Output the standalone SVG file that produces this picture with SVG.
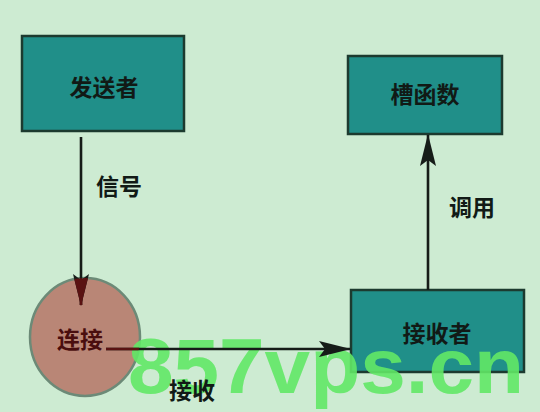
<svg xmlns="http://www.w3.org/2000/svg" width="540" height="412" viewBox="0 0 540 412">
  <defs>
    <style>
      .box { fill: #208f89; stroke: #1c3a2f; stroke-width: 2.5; }
      .lbl { font-family: "Noto Sans CJK SC", "Liberation Sans", sans-serif; font-size: 23px; font-weight: bold; fill: #111a16; text-anchor: middle; dominant-baseline: central; }
      .edge { stroke: #161c18; stroke-width: 2.6; fill: none; }
      .wm { font-family: "Liberation Sans", Arial, sans-serif; font-weight: bold; font-size: 78px; fill: #62e866; fill-opacity: 0.9; }
    </style>
    <marker id="arr" viewBox="0 0 32 16" refX="31" refY="8" markerWidth="32" markerHeight="16" markerUnits="userSpaceOnUse" orient="auto">
      <path d="M0,0 L32,8 L0,16 L6,8 Z" fill="#161c18"/>
    </marker>
    <marker id="arrR" viewBox="0 0 32 16" refX="31" refY="8" markerWidth="32" markerHeight="16" markerUnits="userSpaceOnUse" orient="auto">
      <path d="M0,0 L32,8 L0,16 L6,8 Z" fill="#5a1212"/>
    </marker>
    <clipPath id="circClip">
      <ellipse cx="85" cy="337" rx="55" ry="59"/>
    </clipPath>
  </defs>

  <rect width="540" height="412" fill="#cdebd2"/>

  <g id="sender">
    <rect class="box" x="22" y="36" width="162" height="95"/>
    <text class="lbl" x="104" y="86">发送者</text>
  </g>
  <g id="slot">
    <rect class="box" x="348" y="56" width="154" height="78"/>
    <text class="lbl" x="425" y="93">槽函数</text>
  </g>
  <g id="receiver">
    <rect class="box" x="351" y="290" width="173" height="82"/>
    <text class="lbl" x="437" y="332">接收者</text>
  </g>
  <g id="connect">
    <ellipse cx="85" cy="337" rx="55" ry="59" fill="#b98676" stroke="#6c8a77" stroke-width="2.5"/>
    <text class="lbl" x="80" y="338" style="fill:#4a0e0e">连接</text>
  </g>

  <text class="wm" x="128" y="393" textLength="396" lengthAdjust="spacingAndGlyphs">857vps.cn</text>

  <g id="connectors">
    <path class="edge" d="M81,137 L81,305" marker-end="url(#arr)"/>
    <path class="edge" d="M106,349 L350,349" marker-end="url(#arr)"/>
    <path class="edge" d="M428,290 L428,135" marker-end="url(#arr)"/>
    <g clip-path="url(#circClip)">
      <path class="edge" style="stroke:#5a1212" d="M81,137 L81,305" marker-end="url(#arrR)"/>
      <path class="edge" style="stroke:#5a1212" d="M106,349 L200,349"/>
    </g>
    <text class="lbl" x="119" y="185">信号</text>
    <text class="lbl" x="472" y="206">调用</text>
    <text class="lbl" x="192" y="389">接收</text>
  </g>
</svg>
